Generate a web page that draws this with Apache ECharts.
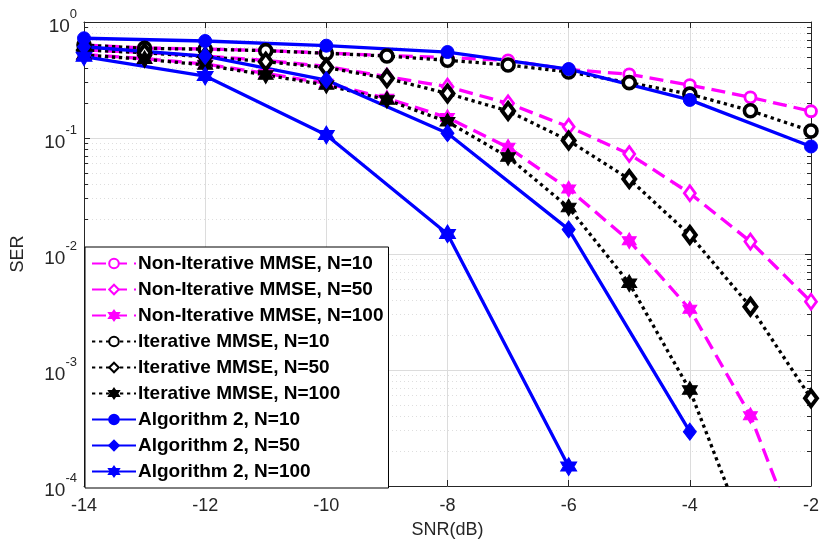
<!DOCTYPE html>
<html>
<head>
<meta charset="utf-8">
<script src="https://cdn.jsdelivr.net/npm/echarts@6/dist/echarts.min.js"></script>
<style>
  html, body { margin: 0; padding: 0; background: #ffffff; }
  #chart { width: 822px; height: 546px; }
</style>
</head>
<body>
<div id="chart"></div>
<script>
// SNR grid (dB): full-resolution curves and the 2 dB curves of Algorithm 2
const snrAll = [-14, -13, -12, -11, -10, -9, -8, -7, -6, -5, -4, -3, -2];
const snrEven = [-14, -12, -10, -8, -6, -4, -2];

// Symbol error rates
const serNonIterN10  = [0.633, 0.597, 0.585, 0.568, 0.540, 0.514, 0.494, 0.466, 0.390, 0.354, 0.286, 0.224, 0.170];
const serNonIterN50  = [0.574, 0.546, 0.509, 0.466, 0.414, 0.338, 0.277, 0.199, 0.125, 0.0728, 0.0334, 0.0128, 0.00388];
const serNonIterN100 = [0.525, 0.484, 0.434, 0.360, 0.296, 0.220, 0.150, 0.0831, 0.0363, 0.0130, 0.00334, 0.000404, 0.000018];
const serIterN10     = [0.633, 0.593, 0.582, 0.566, 0.537, 0.509, 0.468, 0.426, 0.371, 0.300, 0.239, 0.172, 0.115];
const serIterN50     = [0.574, 0.543, 0.502, 0.455, 0.405, 0.327, 0.242, 0.171, 0.0951, 0.0443, 0.0146, 0.00351, 0.00057];
const serIterN100    = [0.519, 0.477, 0.426, 0.349, 0.286, 0.213, 0.138, 0.0686, 0.0252, 0.00559, 0.000672, 0.00003];
const serAlg2N10     = [0.724, 0.686, 0.625, 0.551, 0.393, 0.213, 0.0845];
const serAlg2N50     = [0.612, 0.509, 0.316, 0.110, 0.0163, 0.000294];
const serAlg2N100    = [0.502, 0.342, 0.106, 0.0149, 0.000147];

// Axis settings
const xTicksMin = -14, xTicksMax = -2, xTickStep = 2;
const yMin = 1e-4, yMax = 1;

const seriesNames = [
  'Non-Iterative MMSE, N=10', 'Non-Iterative MMSE, N=50', 'Non-Iterative MMSE, N=100',
  'Iterative MMSE, N=10', 'Iterative MMSE, N=50', 'Iterative MMSE, N=100',
  'Algorithm 2, N=10', 'Algorithm 2, N=50', 'Algorithm 2, N=100'
];

const MAGENTA = '#ff00ff', BLACK = '#000000', BLUE = '#0000ff';
const HEXAGRAM = 'path://M0,-10L2.887,-5L8.66,-5L5.774,0L8.66,5L2.887,5L0,10L-2.887,5L-8.66,5L-5.774,0L-8.66,-5L-2.887,-5Z';
const FONT = 'Arial, "Liberation Sans", Helvetica, sans-serif';

function pairs(xs, ys) {
  return ys.map((y, i) => [xs[i], y]);
}

function makeSeries(name, xs, ys, color, dash, symbol, size, hollow, borderW) {
  return {
    name: name,
    type: 'line',
    data: pairs(xs, ys),
    xAxisIndex: 0,
    yAxisIndex: 0,
    clip: true,
    symbol: symbol,
    symbolSize: size,
    showAllSymbol: true,
    lineStyle: { color: color, width: 3.3, type: dash, cap: 'butt' },
    itemStyle: {
      color: hollow ? '#ffffff' : color,
      borderColor: color,
      borderWidth: borderW
    },
    emphasis: { disabled: true },
    z: 2
  };
}

const dashed = [14, 7];
const dotted = [3.3, 3.7];

const series = [
  makeSeries(seriesNames[0], snrAll, serNonIterN10, MAGENTA, dashed, 'circle', 11, true, 2.8),
  makeSeries(seriesNames[1], snrAll, serNonIterN50, MAGENTA, dashed, 'diamond', [11, 15], true, 2.8),
  makeSeries(seriesNames[2], snrAll, serNonIterN100, MAGENTA, dashed, HEXAGRAM, [14, 16], false, 1),
  makeSeries(seriesNames[3], snrAll, serIterN10, BLACK, dotted, 'circle', 12, true, 3.6),
  makeSeries(seriesNames[4], snrAll, serIterN50, BLACK, dotted, 'diamond', [12, 16], true, 4),
  makeSeries(seriesNames[5], snrAll, serIterN100, BLACK, dotted, HEXAGRAM, [15, 17], false, 1),
  makeSeries(seriesNames[6], snrEven, serAlg2N10, BLUE, 'solid', 'circle', 13, false, 1),
  makeSeries(seriesNames[7], snrEven, serAlg2N50, BLUE, 'solid', 'diamond', [13, 17], false, 1),
  makeSeries(seriesNames[8], snrEven, serAlg2N100, BLUE, 'solid', HEXAGRAM, [16, 18], false, 1)
];

const axisColor = '#262626';
const gridColor = '#dcdcdc';
const minorGridColor = '#dedede';

const chart = echarts.init(document.getElementById('chart'), null, { renderer: 'canvas' });
chart.setOption({
  animation: false,
  backgroundColor: '#ffffff',
  textStyle: { fontFamily: FONT },
  grid: { left: 84, right: 11, top: 22, bottom: 60, containLabel: false },
  legend: {
    data: seriesNames,
    orient: 'vertical',
    left: 85,
    top: 247,
    padding: [7, 5, 7, 6],
    itemWidth: 44,
    itemHeight: 12,
    itemGap: 7,
    backgroundColor: '#ffffff',
    borderColor: '#000000',
    borderWidth: 1,
    borderRadius: 0,
    selectedMode: false,
    textStyle: { fontFamily: FONT, fontWeight: 'bold', fontSize: 19, color: '#000000', padding: [0, 0, 0, -3] }
  },
  xAxis: [
    {
      type: 'value',
      min: xTicksMin,
      max: xTicksMax,
      interval: xTickStep,
      name: 'SNR(dB)',
      nameLocation: 'middle',
      nameGap: 35,
      nameTextStyle: { fontSize: 18, color: axisColor, fontFamily: FONT },
      axisLine: { show: true, lineStyle: { color: axisColor, width: 1 } },
      axisTick: { show: true, inside: true, length: 6, lineStyle: { color: axisColor } },
      axisLabel: { fontSize: 18, color: axisColor, margin: 11, fontFamily: FONT },
      splitLine: { show: true, lineStyle: { color: gridColor, width: 1 } }
    },
    {
      type: 'value',
      min: xTicksMin,
      max: xTicksMax,
      interval: xTickStep,
      position: 'top',
      axisLine: { show: true, onZero: false, lineStyle: { color: axisColor, width: 1 } },
      axisTick: { show: true, inside: true, length: 6, lineStyle: { color: axisColor } },
      axisLabel: { show: false },
      splitLine: { show: false }
    }
  ],
  yAxis: [
    {
      type: 'log',
      logBase: 10,
      min: yMin,
      max: yMax,
      name: 'SER',
      nameLocation: 'middle',
      nameGap: 57,
      nameTextStyle: { fontSize: 18, color: axisColor, fontFamily: FONT },
      axisLine: { show: true, onZero: false, lineStyle: { color: axisColor, width: 1 } },
      axisTick: { show: true, inside: true, length: 6, lineStyle: { color: axisColor } },
      minorTick: { show: true, splitNumber: 9, length: 4, lineStyle: { color: axisColor } },
      axisLabel: {
        margin: 7,
        color: axisColor,
        formatter: function (v) {
          const e = Math.round(Math.log10(v));
          return '{b|10}{s|' + e + '}';
        },
        rich: {
          b: { fontSize: 19, color: axisColor, fontFamily: FONT, verticalAlign: 'bottom', lineHeight: 28 },
          s: { fontSize: 13, color: axisColor, fontFamily: FONT, verticalAlign: 'top', lineHeight: 28 }
        }
      },
      splitLine: { show: true, lineStyle: { color: gridColor, width: 1 } },
      minorSplitLine: { show: true, lineStyle: { color: minorGridColor, width: 1, type: [1, 3] } }
    },
    {
      type: 'log',
      logBase: 10,
      min: yMin,
      max: yMax,
      position: 'right',
      axisLine: { show: true, onZero: false, lineStyle: { color: axisColor, width: 1 } },
      axisTick: { show: true, inside: true, length: 6, lineStyle: { color: axisColor } },
      minorTick: { show: true, splitNumber: 9, length: 4, lineStyle: { color: axisColor } },
      axisLabel: { show: false },
      splitLine: { show: false }
    }
  ],
  series: series
});
</script>
</body>
</html>
